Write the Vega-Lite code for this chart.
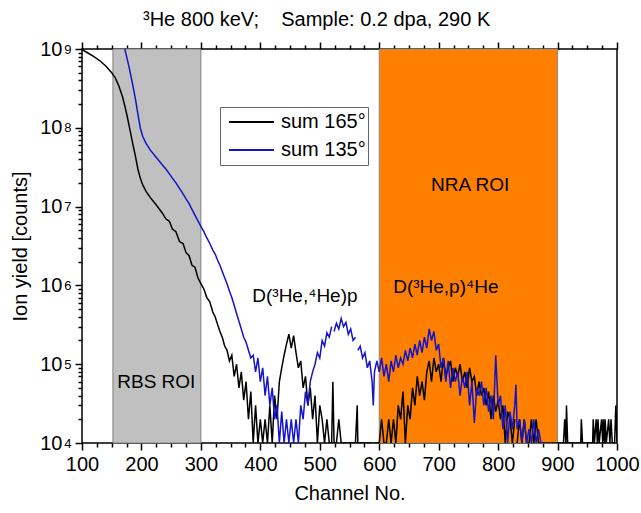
{
  "$schema": "https://vega.github.io/schema/vega-lite/v6.json",
  "width": 535,
  "height": 394,
  "autosize": {"type": "none"},
  "padding": {"left": 82, "top": 49, "right": 24, "bottom": 70},
  "title": {"text": "³He 800 keV;\u00a0\u00a0\u00a0\u00a0Sample: 0.2 dpa, 290 K", "anchor": "start", "frame": "group", "dx": 61, "fontSize": 20, "fontWeight": "normal", "offset": 9, "color": "black"},
  "config": {
    "font": "Liberation Sans",
    "view": {"stroke": "black", "strokeWidth": 1.5},
    "axis": {"grid": false, "domain": false, "tickColor": "black", "tickWidth": 1.5, "labelColor": "black", "titleColor": "black", "titleFontWeight": "normal"}
  },
  "datasets": {
    "gray": [{"x0": 152, "x1": 300, "lo": 10000, "hi": 1000000000}],
    "orange": [{"x0": 600, "x1": 900, "lo": 10000, "hi": 1000000000}],
    "notes": [
      {"c": 225, "v": 59000, "t": "RBS ROI"},
      {"c": 753, "v": 19000000, "t": "NRA ROI"},
      {"c": 475, "v": 740000, "t": "D(³He,⁴He)p"},
      {"c": 712, "v": 960000, "t": "D(³He,p)⁴He"}
    ],
    "spec": [
      {"c":100,"k":9.8e8},{"c":110,"k":8.9e8},{"c":120,"k":8e8},{"c":130,"k":7.1e8},{"c":140,"k":6.1e8},
      {"c":150,"k":5e8},{"c":156,"k":4.3e8},{"c":162,"k":3.4e8},{"c":168,"k":2.5e8},
      {"c":172,"k":1.9e8,"b":1e9},{"c":176,"k":1.4e8,"b":7.5e8},{"c":180,"k":1e8,"b":5.5e8},
      {"c":185,"k":6.5e7,"b":3.6e8},{"c":190,"k":4.3e7,"b":2.3e8},{"c":194,"k":3e7,"b":1.5e8},
      {"c":198,"k":2.3e7,"b":1e8},{"c":202,"k":1.9e7,"b":7.8e7},{"c":208,"k":1.55e7,"b":6.3e7},
      {"c":215,"k":1.3e7,"b":5.2e7},{"c":225,"k":1.05e7,"b":4.2e7},{"c":235,"k":8.3e6,"b":3.4e7},
      {"c":241,"k":7e6,"b":3e7},{"c":247,"k":6.5e6,"b":2.6e7},{"c":252,"k":5.2e6,"b":2.3e7},
      {"c":258,"k":4.8e6,"b":2e7},{"c":264,"k":3.6e6,"b":1.7e7},{"c":270,"k":3.4e6,"b":1.45e7},
      {"c":275,"k":2.6e6,"b":1.25e7},{"c":280,"k":2.4e6,"b":1.1e7},{"c":285,"k":1.8e6,"b":9.2e6},
      {"c":290,"k":1.7e6,"b":7.8e6},{"c":295,"k":1.25e6,"b":6.6e6},{"c":300,"k":1.05e6,"b":5.6e6},
      {"c":305,"k":9e5,"b":4.8e6},{"c":310,"k":7e5,"b":4e6},{"c":315,"k":6.2e5,"b":3.4e6},
      {"c":320,"k":4.6e5,"b":2.8e6},{"c":324,"k":4e5,"b":2.5e6},{"c":328,"k":3.2e5,"b":2.1e6},
      {"c":332,"k":2.6e5,"b":1.8e6},{"c":336,"k":2.2e5,"b":1.5e6},{"c":340,"k":1.7e5,"b":1.25e6},
      {"c":344,"k":1.5e5,"b":1.05e6},{"c":348,"k":1.1e5,"b":8.5e5},{"c":352,"k":1.3e5,"b":7e5},
      {"c":356,"k":7e4,"b":5.6e5},{"c":360,"k":1e5,"b":4.4e5},{"c":364,"k":5e4,"b":3.5e5},
      {"c":368,"k":8e4,"b":2.8e5},{"c":372,"k":3.5e4,"b":2.2e5},{"c":376,"k":6e4,"b":1.9e5},
      {"c":380,"k":2e4,"b":1.5e5},{"c":384,"k":4.5e4,"b":1.2e5},{"c":388,"k":1e4,"b":1.3e5},
      {"c":392,"k":3e4,"b":8e4},{"c":396,"k":1e4,"b":1.2e5},{"c":400,"k":2e4,"b":6e4},
      {"c":404,"k":1e4,"b":9e4},{"c":408,"k":2e4,"b":4e4},{"c":412,"k":1e4,"b":7e4},
      {"c":416,"k":3e4,"b":3e4},{"c":420,"k":1e4,"b":5e4},{"c":424,"k":4e4,"b":2e4},
      {"c":428,"k":2e4,"b":3e4},{"c":432,"k":6e4,"b":1e4},{"c":436,"k":9e4,"b":2.5e4},
      {"c":440,"k":1.3e5,"b":1e4},{"c":444,"k":1.8e5,"b":2e4},{"c":448,"k":2.4e5,"b":1e4},
      {"c":452,"k":1.6e5,"b":2e4},{"c":456,"k":2.3e5,"b":1e4},{"c":460,"k":1.4e5,"b":2e4},
      {"c":464,"k":9e4,"b":1e4},{"c":468,"k":1.1e5,"b":3e4},{"c":472,"k":5e4,"b":2e4},
      {"c":476,"k":7e4,"b":4.5e4},{"c":480,"k":3e4,"b":3e4},{"c":484,"k":5e4,"b":6e4},
      {"c":488,"k":2e4,"b":8e4},{"c":492,"k":4e4,"b":1e5},{"c":496,"k":1e4,"b":1.4e5},
      {"c":500,"k":3e4,"b":1.2e5},{"c":504,"k":2e4,"b":2e5},{"c":508,"k":1e4,"b":1.7e5},
      {"c":512,"k":2e4,"b":2.5e5},{"c":516,"k":1e4,"b":2.2e5},{"c":520,"k":1e4,"b":3e5},
      {"c":522,"k":6e4},{"c":524,"k":1e4,"b":2.6e5},{"c":528,"k":1e4,"b":3.3e5},
      {"c":532,"k":2e4,"b":2.8e5},{"c":536,"k":1e4,"b":3.8e5},{"c":540,"k":1e4,"b":3e5},
      {"c":544,"k":1e4,"b":3.4e5},{"c":548,"k":1e4,"b":2.4e5},{"c":552,"k":1e4,"b":2.8e5},
      {"c":556,"k":1e4,"b":2e5},{"c":560,"k":1e4,"b":2.2e5},{"c":563,"k":3e4},
      {"c":564,"k":1e4,"b":1.5e5},{"c":568,"k":1e4,"b":1.7e5},{"c":572,"k":1e4,"b":1.2e5},
      {"c":576,"k":1e4,"b":1.4e5},{"c":580,"k":1e4,"b":9e4},{"c":584,"k":1e4,"b":1.1e5},
      {"c":588,"k":1e4,"b":6e4},{"c":590,"b":3e4},{"c":592,"k":1e4,"b":8e4},
      {"c":596,"k":1e4,"b":1.1e5},{"c":600,"k":1e4,"b":8e4},{"c":604,"k":2e4,"b":1.2e5},
      {"c":608,"k":1e4,"b":7e4},{"c":612,"k":1e4,"b":1e5},{"c":616,"k":2e4,"b":6e4},
      {"c":620,"k":1e4,"b":1.1e5},{"c":624,"k":2e4,"b":8e4},{"c":628,"k":1e4,"b":1.3e5},
      {"c":632,"k":3e4,"b":9e4},{"c":636,"k":2e4,"b":1.2e5},{"c":640,"k":4.5e4,"b":1e5},
      {"c":644,"k":1e4,"b":1.5e5},{"c":648,"k":3e4,"b":1.1e5},{"c":652,"k":2e4,"b":1.6e5},
      {"c":656,"k":5e4,"b":1.2e5},{"c":660,"k":3e4,"b":1.8e5},{"c":664,"k":7e4,"b":1.3e5},
      {"c":668,"k":4e4,"b":2e5},{"c":672,"k":6e4,"b":1.4e5},{"c":676,"k":3.5e4,"b":2.2e5},
      {"c":680,"k":8e4,"b":1.6e5},{"c":684,"k":1.1e5,"b":2.8e5},{"c":688,"k":6e4,"b":2e5},
      {"c":692,"k":1.2e5,"b":2.6e5},{"c":696,"k":8e4,"b":1.5e5},{"c":700,"k":1e5,"b":1.8e5},
      {"c":704,"k":6e4,"b":9e4},{"c":708,"k":1.2e5,"b":1.2e5},{"c":712,"k":7e4,"b":6e4},
      {"c":716,"k":9e4,"b":1.1e5},{"c":720,"k":1.1e5,"b":5e4},{"c":724,"k":6e4,"b":9e4},
      {"c":728,"k":9e4,"b":6e4},{"c":732,"k":7e4,"b":8e4},{"c":736,"k":1e5,"b":4e4},
      {"c":740,"k":6e4,"b":7e4},{"c":744,"k":8e4,"b":5e4},{"c":748,"k":5e4,"b":8e4},
      {"c":752,"k":9e4,"b":3e4},{"c":756,"k":6e4,"b":6e4},{"c":760,"k":7e4,"b":1.8e4},
      {"c":764,"k":4e4,"b":5e4},{"c":768,"k":6e4,"b":4e4},{"c":772,"k":4e4,"b":6e4},
      {"c":776,"k":5e4,"b":3e4},{"c":780,"k":3e4,"b":5e4},{"c":784,"k":4.5e4,"b":2.5e4},
      {"c":788,"k":2e4,"b":4e4},{"c":792,"k":4e4,"b":2e4},{"c":796,"k":2.5e4,"b":1.3e5},
      {"c":800,"k":3.5e4,"b":3e4},{"c":804,"k":2e4,"b":4e4},{"c":808,"k":3e4,"b":1.5e4},
      {"c":812,"k":1e4,"b":3e4},{"c":816,"k":2.5e4,"b":1e4},{"c":820,"k":2e4,"b":2.5e4},
      {"c":824,"k":1e4,"b":1.5e4},{"c":828,"k":2e4,"b":3e4},{"c":830,"b":5.5e4},
      {"c":832,"k":1e4,"b":1.5e4},{"c":836,"k":2e4,"b":2e4},{"c":840,"k":1e4,"b":1e4},
      {"c":844,"k":2e4,"b":2e4},{"c":848,"k":1e4,"b":1e4},{"c":852,"k":1e4,"b":1.5e4},
      {"c":856,"k":2e4,"b":1e4},{"c":860,"k":1e4,"b":2e4},{"c":864,"k":2e4,"b":1e4},
      {"c":868,"k":1e4,"b":1.5e4},{"c":872,"k":1e4,"b":1e4},{"c":876,"k":1e4,"b":1e4},
      {"c":890,"k":1e4},{"c":910,"k":1e4},{"c":912,"k":2e4},{"c":914,"k":1e4},
      {"c":915,"k":3e4},{"c":917,"k":1e4},{"c":939,"k":1e4},{"c":940,"k":2e4},
      {"c":942,"k":1e4},{"c":959,"k":1e4},{"c":960,"k":2e4},{"c":962,"k":1e4},
      {"c":965,"k":2e4},{"c":967,"k":1e4},{"c":968,"k":2e4},{"c":970,"k":1e4},
      {"c":974,"k":2e4},{"c":976,"k":1e4},{"c":977,"k":2e4},{"c":979,"k":1e4},
      {"c":980,"k":2e4},{"c":982,"k":1e4},{"c":986,"k":2e4},{"c":988,"k":1e4},
      {"c":990,"k":2e4},{"c":992,"k":1e4},{"c":996,"k":1e4},{"c":998,"k":3e4},
      {"c":1000,"k":1e4}
    ]
  },
  "layer": [
    {
      "data": {"name": "gray"},
      "mark": {"type": "rect", "fill": "#c0c0c0", "stroke": "#7f7f7f", "strokeWidth": 1},
      "encoding": {
        "x": {"field": "x0", "type": "quantitative", "scale": {"domain": [100, 1000], "nice": false},
          "axis": {"orient": "bottom", "values": [100,200,300,400,500,600,700,800,900,1000], "format": "d", "labelFontSize": 20, "tickSize": 7, "labelPadding": 4, "labelFlush": false, "title": "Channel No.", "titleFontSize": 20, "titlePadding": 9}},
        "x2": {"field": "x1"},
        "y": {"field": "lo", "type": "quantitative", "scale": {"type": "log", "domain": [10000, 1000000000], "nice": false},
          "axis": {"orient": "left", "values": [10000,100000,1000000,10000000,100000000,1000000000], "labelExpr": "'10'", "labelFontSize": 20, "tickSize": 7, "labelPadding": 13, "labelFlush": false, "title": "Ion yield [counts]", "titleFontSize": 20, "titlePadding": 9}},
        "y2": {"field": "hi"}
      }
    },
    {
      "data": {"name": "orange"},
      "mark": {"type": "rect", "fill": "#ff8000", "stroke": "#8a8a8a", "strokeWidth": 1},
      "encoding": {
        "x": {"field": "x0", "type": "quantitative",
          "axis": {"orient": "bottom", "values": [125,150,175,225,250,275,325,350,375,425,450,475,525,550,575,625,650,675,725,750,775,825,850,875,925,950,975], "labels": false, "tickSize": 4, "title": null}},
        "x2": {"field": "x1"},
        "y": {"field": "lo", "type": "quantitative",
          "axis": {"orient": "left", "values": [20000,30000,40000,50000,60000,70000,80000,90000,200000,300000,400000,500000,600000,700000,800000,900000,2000000,3000000,4000000,5000000,6000000,7000000,8000000,9000000,20000000,30000000,40000000,50000000,60000000,70000000,80000000,90000000,200000000,300000000,400000000,500000000,600000000,700000000,800000000,900000000], "labels": false, "tickSize": 4, "title": null}},
        "y2": {"field": "hi"}
      }
    },
    {
      "data": {"name": "spec"},
      "transform": [{"fold": ["k", "b"], "as": ["s", "v"]}],
      "mark": {"type": "line", "strokeWidth": 1.5, "clip": true},
      "encoding": {
        "x": {"field": "c", "type": "quantitative",
          "axis": {"orient": "top", "values": [100,200,300,400,500,600,700,800,900,1000], "labels": false, "tickSize": 7, "title": null}},
        "y": {"field": "v", "type": "quantitative",
          "axis": {"orient": "left", "values": [10000,100000,1000000,10000000,100000000,1000000000], "ticks": false, "labelExpr": "'' + round(log(datum.value)/LN10)", "labelFontSize": 13, "labelPadding": 11, "labelDy": -9, "labelFlush": false, "title": null}},
        "color": {"field": "s", "type": "nominal", "scale": {"domain": ["k", "b"], "range": ["#000000", "#1414c8"]},
          "legend": {"orient": "none", "legendX": 138, "legendY": 58, "title": null, "labelExpr": "datum.label == 'k' ? 'sum 165°' : 'sum 135°'", "labelFontSize": 20, "labelColor": "black", "symbolType": "stroke", "symbolSize": 2025, "symbolStrokeWidth": 2, "symbolOffset": 6, "clipHeight": 26, "strokeColor": "#666666", "fillColor": "white", "padding": 2, "rowPadding": 2, "labelOffset": 6}}
      }
    },
    {
      "data": {"name": "notes"},
      "mark": {"type": "text", "fontSize": 19, "align": "center", "baseline": "middle", "color": "black"},
      "encoding": {
        "x": {"field": "c", "type": "quantitative",
          "axis": {"orient": "top", "values": [125,150,175,225,250,275,325,350,375,425,450,475,525,550,575,625,650,675,725,750,775,825,850,875,925,950,975], "labels": false, "tickSize": 4, "title": null}},
        "y": {"field": "v", "type": "quantitative", "axis": null},
        "text": {"field": "t"}
      }
    }
  ],
  "resolve": {"axis": {"x": "independent", "y": "independent"}}
}
